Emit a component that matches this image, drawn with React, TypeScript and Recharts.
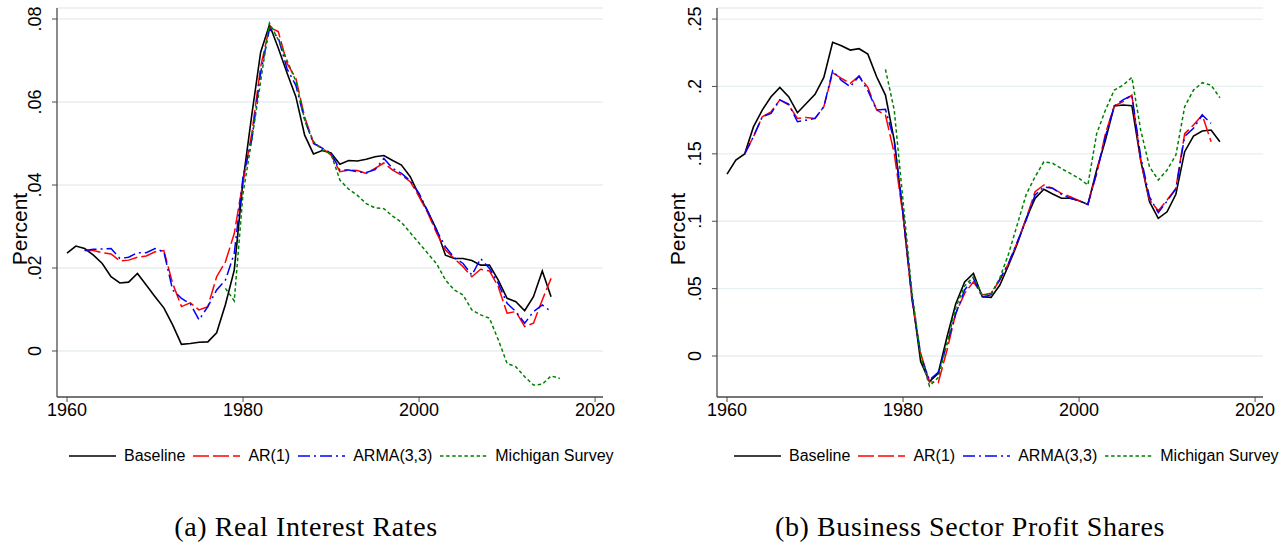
import React from 'react';
import { LineChart, Line, XAxis, YAxis, CartesianGrid, Legend, Label } from 'recharts';

// years on the x axis (1960-2016)
const YEARS = [
  1960, 1961, 1962, 1963, 1964, 1965, 1966, 1967, 1968, 1969,
  1970, 1971, 1972, 1973, 1974, 1975, 1976, 1977, 1978, 1979,
  1980, 1981, 1982, 1983, 1984, 1985, 1986, 1987, 1988, 1989,
  1990, 1991, 1992, 1993, 1994, 1995, 1996, 1997, 1998, 1999,
  2000, 2001, 2002, 2003, 2004, 2005, 2006, 2007, 2008, 2009,
  2010, 2011, 2012, 2013, 2014, 2015, 2016,
];

const X_TICKS = [1960, 1980, 2000, 2020];

// (a) real interest rates
const RATE_TICKS = [0, 0.02, 0.04, 0.06, 0.08];
const rateBaseline = [
  0.0236, 0.0253, 0.0247, 0.0231, 0.0211, 0.0179, 0.0164, 0.0166, 0.0187, 0.0159,
  0.0131, 0.0104, 0.0063, 0.0016, 0.0018, 0.0021, 0.0022, 0.0044, 0.0112, 0.0195,
  0.041, 0.057, 0.072, 0.0786, 0.073, 0.067, 0.0613, 0.052, 0.0475, 0.0483,
  0.0477, 0.045, 0.0459, 0.0458, 0.0462, 0.0468, 0.0471, 0.0459, 0.0448, 0.042,
  0.0375, 0.0336, 0.0292, 0.0231, 0.0223, 0.0223, 0.0218, 0.0207, 0.0207, 0.0171,
  0.0127, 0.0119, 0.0097, 0.0131, 0.0193, 0.0131, null,
];
const rateAR1 = [
  null, null, 0.0242, 0.0242, 0.0237, 0.0234, 0.0217, 0.0219, 0.0226, 0.0229,
  0.0239, 0.0242, 0.0163, 0.0107, 0.0116, 0.0099, 0.0107, 0.0179, 0.0215, 0.0283,
  0.0408, 0.0525, 0.0685, 0.078, 0.077, 0.0693, 0.0657, 0.0564, 0.0501, 0.0489,
  0.0472, 0.0432, 0.0436, 0.0435, 0.0428, 0.044, 0.0453, 0.0436, 0.0424, 0.0408,
  0.0372, 0.0332, 0.0284, 0.0243, 0.0223, 0.0203, 0.0179, 0.0197, 0.0193, 0.0155,
  0.0091, 0.0095, 0.0059, 0.0067, 0.0123, 0.0175, null,
];
const rateARMA = [
  null, null, 0.0242, 0.0245, 0.0246, 0.0247, 0.0223, 0.0226, 0.0237, 0.0237,
  0.0247, 0.0239, 0.0147, 0.0127, 0.0114, 0.0075, 0.0107, 0.0147, 0.0171, 0.0235,
  0.042, 0.051, 0.067, 0.0776, 0.0755, 0.068, 0.064, 0.0557, 0.05, 0.0489,
  0.0477, 0.0436, 0.0436, 0.0432, 0.043, 0.0437, 0.0464, 0.044, 0.0428, 0.041,
  0.038, 0.0336, 0.029, 0.0251, 0.0225, 0.0211, 0.0183, 0.0223, 0.0199, 0.0163,
  0.0115, 0.0095, 0.0067, 0.0095, 0.0111, 0.0095, null,
];
const rateMichigan = [
  null, null, null, null, null, null, null, null, null, null,
  null, null, null, null, null, null, null, null, 0.0151, 0.0121,
  0.038, 0.051, 0.065, 0.079, 0.075, 0.07, 0.065, 0.0557, 0.0505, 0.0485,
  0.0475, 0.0412, 0.039, 0.0375, 0.0355, 0.0345, 0.0343, 0.0325, 0.031, 0.0285,
  0.026, 0.0235, 0.021, 0.0171, 0.0147, 0.0135, 0.0099, 0.0087, 0.0079, 0.0027,
  -0.003, -0.0038, -0.0062, -0.0082, -0.008, -0.006, -0.0066,
];

// (b) business sector profit shares
const PROFIT_TICKS = [0, 0.05, 0.1, 0.15, 0.2, 0.25];
const profitBaseline = [
  0.135, 0.1454, 0.1499, 0.17, 0.1825, 0.1924, 0.1993, 0.1924, 0.1805, 0.1874,
  0.1941, 0.2067, 0.2327, 0.2302, 0.227, 0.228, 0.224, 0.2072, 0.1936, 0.16,
  0.105, 0.045, -0.004, -0.019, -0.0128, 0.0143, 0.039, 0.055, 0.0613, 0.044,
  0.0435, 0.0527, 0.0675, 0.0836, 0.1021, 0.117, 0.1237, 0.1202, 0.117, 0.117,
  0.1152, 0.1125, 0.138, 0.1602, 0.1855, 0.1862, 0.1857, 0.1454, 0.1145, 0.1021,
  0.107, 0.12, 0.1516, 0.1632, 0.1669, 0.1677, 0.159,
];
const profitAR1 = [
  null, null, 0.1499, 0.1627, 0.1775, 0.1812, 0.19, 0.1862, 0.1763, 0.177,
  0.1763, 0.185, 0.2102, 0.206, 0.2023, 0.2077, 0.1993, 0.1825, 0.1788, 0.1504,
  0.104, 0.042, 0.002, -0.019, -0.0198, 0.0045, 0.032, 0.0465, 0.0551, 0.0453,
  0.0465, 0.0564, 0.0688, 0.0848, 0.1021, 0.1219, 0.1269, 0.1244, 0.1207, 0.1182,
  0.1152, 0.1125, 0.1355, 0.165, 0.1855, 0.1887, 0.1936, 0.1454, 0.116, 0.1078,
  0.1157, 0.1244, 0.165, 0.1714, 0.1788, 0.159, null,
];
const profitARMA = [
  null, null, 0.1499, 0.1627, 0.1775, 0.18, 0.19, 0.187, 0.1738, 0.175,
  0.1763, 0.185, 0.2117, 0.2045, 0.1998, 0.2077, 0.197, 0.1825, 0.183, 0.16,
  0.106, 0.044, 0.0, -0.0178, -0.012, 0.009, 0.0315, 0.049, 0.0576, 0.0435,
  0.0455, 0.057, 0.069, 0.085, 0.101, 0.1195, 0.1255, 0.1245, 0.12, 0.117,
  0.1152, 0.1125, 0.136, 0.163, 0.1855, 0.19, 0.1936, 0.148, 0.118, 0.1063,
  0.115, 0.124, 0.163, 0.169, 0.1788, 0.1726, null,
];
const profitMichigan = [
  null, null, null, null, null, null, null, null, null, null,
  null, null, null, null, null, null, null, null, 0.2127, 0.1825,
  0.115, 0.048, 0.0, -0.0223, -0.016, 0.01, 0.036, 0.052, 0.0588, 0.045,
  0.046, 0.058, 0.076, 0.098, 0.12, 0.133, 0.1441, 0.143, 0.139, 0.1355,
  0.1318, 0.1269, 0.165, 0.1825, 0.1973, 0.201, 0.2067, 0.1677, 0.1404, 0.1306,
  0.138, 0.1491, 0.185, 0.1973, 0.2028, 0.201, 0.1916,
];

const rateData = YEARS.map((year, i) => ({
  year,
  baseline: rateBaseline[i],
  ar1: rateAR1[i],
  arma: rateARMA[i],
  michigan: rateMichigan[i],
}));

const profitData = YEARS.map((year, i) => ({
  year,
  baseline: profitBaseline[i],
  ar1: profitAR1[i],
  arma: profitARMA[i],
  michigan: profitMichigan[i],
}));

// line styles (stata-like)
const SERIES = [
  { key: 'baseline', name: 'Baseline', color: '#000000', dash: undefined, width: 1.6 },
  { key: 'ar1', name: 'AR(1)', color: '#ff0000', dash: '16 4', width: 1.5 },
  { key: 'arma', name: 'ARMA(3,3)', color: '#0000ff', dash: '12 4 2 4', width: 1.5 },
  { key: 'michigan', name: 'Michigan Survey', color: '#008000', dash: '3.5 2.6', width: 1.5 },
];

const AXIS = '#4d4d4d';
const GRID = '#e7eff2';

const fmtY = (v: number) => (v === 0 ? '0' : String(v).replace(/^(-?)0\./, '$1.'));

function YTick(props: any) {
  const { x, y, payload } = props;
  const tx = x - 10.5;
  return (
    <text x={tx} y={y} transform={`rotate(-90 ${tx} ${y})`} textAnchor="middle" fontSize={18} fill="#000">
      {fmtY(payload.value)}
    </text>
  );
}

function LegendRow() {
  return (
    <div style={{ display: 'flex', alignItems: 'center', height: 20, fontSize: 16, color: '#000', whiteSpace: 'nowrap' }}>
      {SERIES.map((s) => (
        <div key={s.key} style={{ display: 'flex', alignItems: 'center', marginRight: 8 }}>
          <svg width={47} height={10} style={{ marginRight: 8 }}>
            <line x1={0} y1={5} x2={47} y2={5} stroke={s.color} strokeWidth={s.width} strokeDasharray={s.dash} />
          </svg>
          <span>{s.name}</span>
        </div>
      ))}
    </div>
  );
}

interface PanelProps {
  data: any[];
  domain: [number, number];
  ticks: number[];
  left: number;
  width: number;
  axisWidth: number;
  rightMargin: number;
  labelX: number;
  legendLeft: number;
  caption: string;
  captionCenter: number;
}

function Panel({ data, domain, ticks, left, width, axisWidth, rightMargin, labelX, legendLeft, caption, captionCenter }: PanelProps) {
  return (
    <>
      <div style={{ position: 'absolute', left, top: 0 }}>
        <LineChart width={width} height={480} data={data} margin={{ top: 8, right: rightMargin, left: 0, bottom: 50 }}>
          <CartesianGrid vertical={false} stroke={GRID} strokeWidth={1.3} />
          <XAxis
            dataKey="year"
            type="number"
            domain={[1958.86, 2020.9]}
            ticks={X_TICKS}
            allowDataOverflow
            height={33}
            tickSize={5}
            tickMargin={1}
            tick={{ fontSize: 18, fill: '#000' }}
            axisLine={{ stroke: AXIS, strokeWidth: 1.3 }}
            tickLine={{ stroke: AXIS }}
          />
          <YAxis
            type="number"
            domain={domain}
            ticks={ticks}
            allowDataOverflow
            width={axisWidth}
            tickSize={5}
            tickMargin={0}
            tick={<YTick />}
            axisLine={{ stroke: AXIS, strokeWidth: 1.3 }}
            tickLine={{ stroke: AXIS }}
          >
            <Label
              content={() => (
                <text x={labelX} y={229} transform={`rotate(-90 ${labelX} 229)`} textAnchor="middle" fontSize={21} fill="#000">
                  Percent
                </text>
              )}
            />
          </YAxis>
          <Legend
            verticalAlign="middle"
            align="center"
            layout="horizontal"
            wrapperStyle={{ position: 'absolute', top: 446, left: legendLeft, width: 620 }}
            content={() => <LegendRow />}
          />
          {SERIES.map((s) => (
            <Line
              key={s.key}
              type="linear"
              dataKey={s.key}
              name={s.name}
              stroke={s.color}
              strokeWidth={s.width}
              strokeDasharray={s.dash}
              dot={false}
              activeDot={false}
              isAnimationActive={false}
            />
          ))}
        </LineChart>
      </div>
      <div
        style={{
          position: 'absolute',
          left: captionCenter - 300,
          width: 600,
          top: 510,
          textAlign: 'center',
          fontFamily: '"Liberation Serif", "DejaVu Serif", serif',
          fontSize: 28,
          letterSpacing: 0.6,
          lineHeight: '34px',
          color: '#000',
        }}
      >
        {caption}
      </div>
    </>
  );
}

export default function App() {
  return (
    <div
      style={{
        position: 'absolute',
        left: 0,
        top: 0,
        width: 1286,
        height: 543,
        background: '#fff',
        overflow: 'hidden',
        fontFamily: '"Liberation Sans", Arial, Helvetica, sans-serif',
      }}
    >
      <Panel
        data={rateData}
        domain={[-0.01108, 0.08265]}
        ticks={RATE_TICKS}
        left={0}
        width={640}
        axisWidth={57}
        rightMargin={37}
        labelX={27}
        legendLeft={69}
        caption="(a) Real Interest Rates"
        captionCenter={306}
      />
      <Panel
        data={profitData}
        domain={[-0.0304, 0.2582]}
        ticks={PROFIT_TICKS}
        left={650}
        width={636}
        axisWidth={67}
        rightMargin={23}
        labelX={35}
        legendLeft={84}
        caption="(b) Business Sector Profit Shares"
        captionCenter={970}
      />
    </div>
  );
}
